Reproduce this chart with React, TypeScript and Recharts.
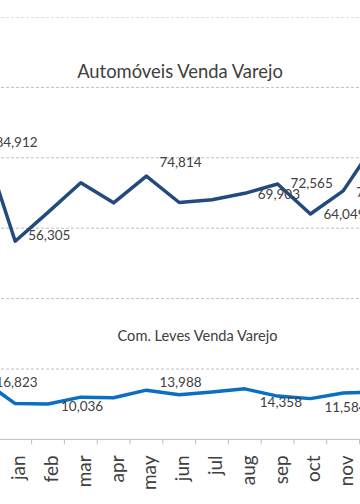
import React from 'react';
import { LineChart, Line, XAxis, YAxis, ReferenceLine, LabelList } from 'recharts';

const months = ['dec', 'jan', 'feb', 'mar', 'apr', 'may', 'jun', 'jul', 'aug', 'sep', 'oct', 'nov', 'dec'];
const automoveis = [84912, 56305, 64500, 72900, 67200, 74814, 67300, 68100, 69903, 72565, 64049, 70600, 84500];
const comLeves = [16823, 10180, 10036, 12000, 11850, 13988, 12700, 13440, 14358, 12300, 11584, 13180, 13470];
const yTicks = [0, 20000, 40000, 60000, 80000, 100000, 120000];
const autoLabelIdx = [0, 1, 5, 8, 9, 10, 11];
const levesLabelIdx = [0, 2, 5, 8, 10];

const data = months.map((m, i) => ({ i, m, auto: automoveis[i], leves: comLeves[i] }));
const xTicks: number[] = [];
for (let k = -0.5; k <= months.length - 0.5; k += 0.5) xTicks.push(k);

const FONT = 'Lato, "Open Sans", sans-serif';
const TEXT = '#404040';
const GRID = '#bfbfbf';

const autoDy: Record<number, number> = { 0: 1.5, 1: -6.5, 5: -14.5, 8: 1, 9: -0.5, 10: 0, 11: 1 };
const levesDy: Record<number, number> = { 0: 2, 2: 2, 5: -8, 8: 13, 10: 8 };
const levesDx: Record<number, number> = { 8: 15, 10: 14 };

const fmt = (v: number) => v.toLocaleString('en-US');

const makeLabel = (idx: number[], dyMap: Record<number, number>, dxMap: Record<number, number>) => (props: any) => {
  const { x, y, value, index } = props;
  if (!idx.includes(index)) return null;
  const dx = dxMap[index] ?? 13;
  const dy = dyMap[index] ?? 0;
  return (
    <text x={x + dx} y={y + dy} textAnchor="start" dominantBaseline="central" fontFamily={FONT} fontSize={13.5} fill={TEXT}>
      {fmt(value)}
    </text>
  );
};

const Tick = (props: any) => {
  const { x, y, payload } = props;
  const v = payload.value;
  if (!Number.isInteger(v)) {
    return <line x1={x} x2={x} y1={y - 5} y2={y} stroke={GRID} strokeWidth={1} />;
  }
  return (
    <text transform={`translate(${x + 2.5},${y + 11}) rotate(-90)`} textAnchor="end" dominantBaseline="central" fontFamily={FONT} fontSize={19} fill={TEXT}>
      {months[v]}
    </text>
  );
};

export default function App() {
  return (
    <div style={{ position: 'fixed', left: 0, top: 0, width: 360, height: 504, overflow: 'hidden', background: '#fff' }}>
      <div style={{ position: 'absolute', left: -33.6, top: 16.6 }}>
        <LineChart width={426.4} height={492} data={data} margin={{ top: 0, right: 0, bottom: 0, left: 0 }}>
          <YAxis domain={[0, 120000]} ticks={yTicks} width={0} tick={false} axisLine={false} tickLine={false} allowDataOverflow />
          <XAxis
            dataKey="i"
            type="number"
            domain={[-0.5, months.length - 0.5]}
            ticks={xTicks}
            interval={0}
            height={69.6}
            tickSize={5}
            tickMargin={0}
            tickLine={false}
            axisLine={{ stroke: GRID }}
            tick={<Tick />}
            allowDataOverflow
          />
          {yTicks.filter((t) => t > 0).map((t) => (
            <ReferenceLine key={t} y={t} stroke={GRID} strokeDasharray="3 2" strokeWidth={1} ifOverflow="visible" />
          ))}
          <Line dataKey="auto" type="linear" stroke="#234a7d" strokeWidth={3.5} strokeLinejoin="round" dot={false} isAnimationActive={false}>
            <LabelList dataKey="auto" content={makeLabel(autoLabelIdx, autoDy, {})} />
          </Line>
          <Line dataKey="leves" type="linear" stroke="#0a6fc2" strokeWidth={3.5} strokeLinejoin="round" dot={false} isAnimationActive={false}>
            <LabelList dataKey="leves" content={makeLabel(levesLabelIdx, levesDy, levesDx)} />
          </Line>
        </LineChart>
      </div>
      <svg width={360} height={504} style={{ position: 'absolute', left: 0, top: 0, pointerEvents: 'none' }}>
        <text x={180} y={77.5} textAnchor="middle" fontFamily={FONT} fontSize={18.4} fill={TEXT}>Automóveis Venda Varejo</text>
        <text x={197.5} y={341} textAnchor="middle" fontFamily={FONT} fontSize={14.6} fill={TEXT}>Com. Leves Venda Varejo</text>
      </svg>
    </div>
  );
}
